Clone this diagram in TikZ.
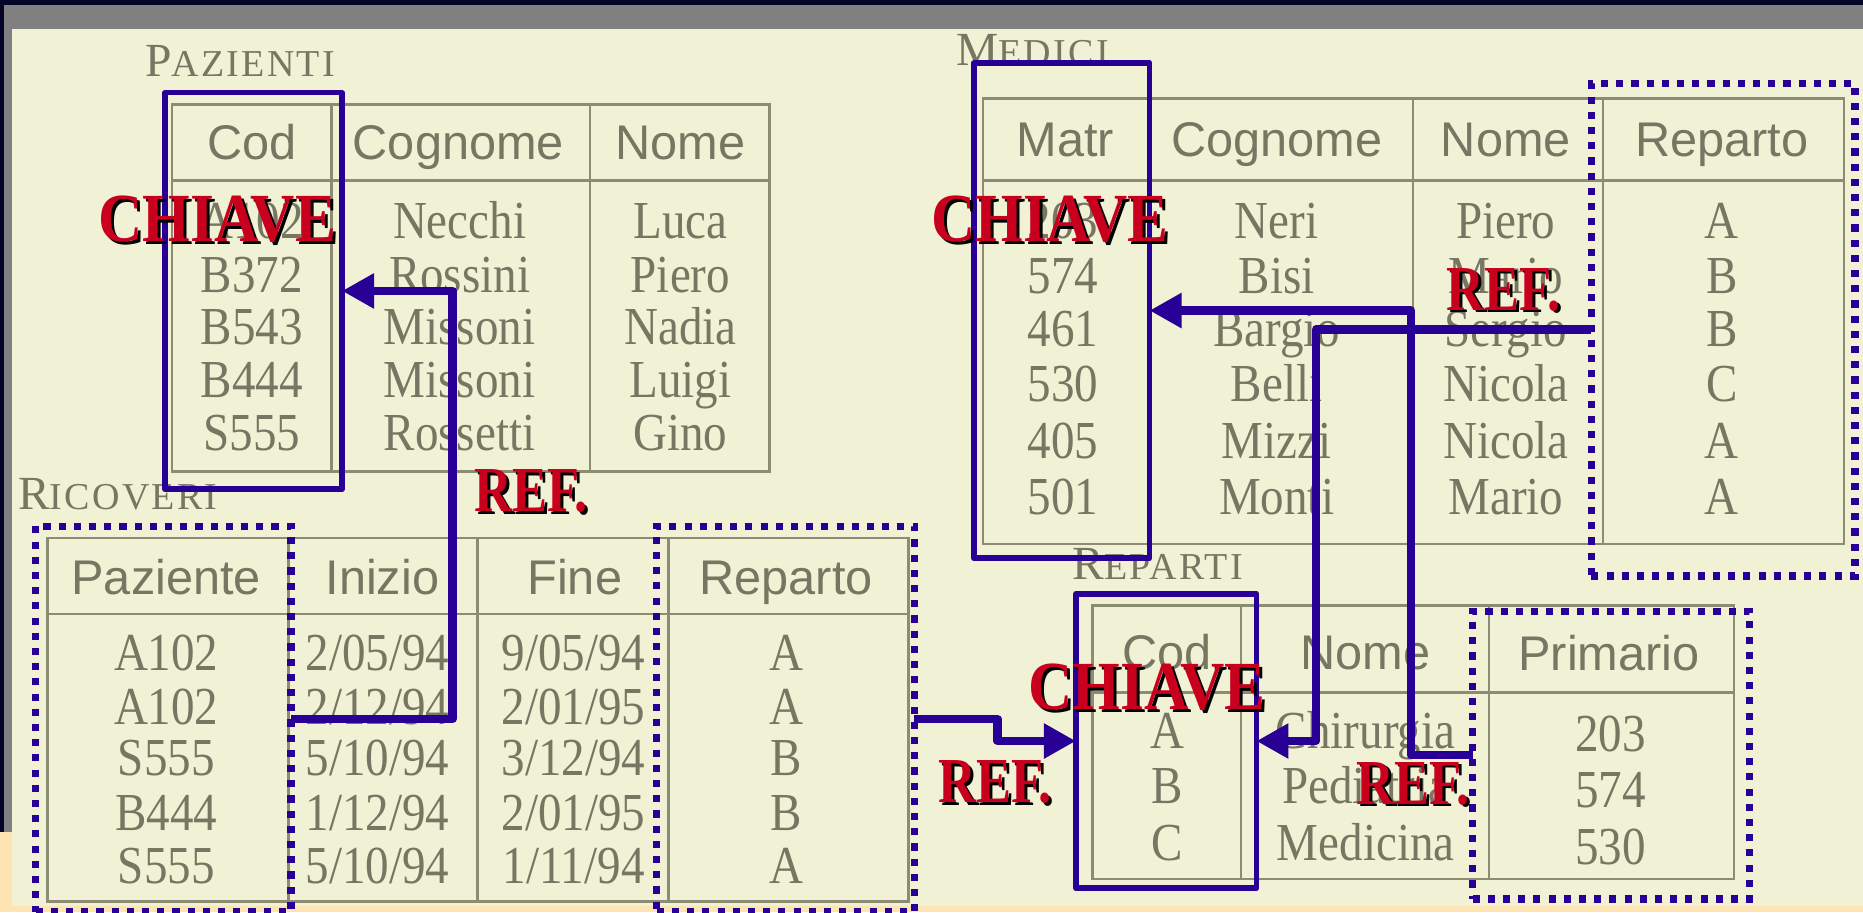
\documentclass[tikz,border=0pt]{standalone}
\usepackage{fontspec}
\setmainfont{Liberation Serif}
\newfontfamily\headfont{Liberation Sans}
\newfontfamily\cellfont[FakeStretch=0.88]{Liberation Serif}
\newfontfamily\titlefont[LetterSpace=6]{Liberation Serif}
\newfontfamily\keyfont[FakeStretch=0.89]{Liberation Serif}
\newfontfamily\reffont[FakeStretch=0.82]{Liberation Serif}
\usetikzlibrary{arrows.meta}
\definecolor{cream}{RGB}{241,241,213}
\definecolor{peach}{RGB}{253,228,178}
\definecolor{navy}{RGB}{5,5,40}
\definecolor{bandgray}{RGB}{128,128,128}
\definecolor{tabgray}{RGB}{140,140,115}
\definecolor{inkgray}{RGB}{118,118,98}
\definecolor{keyblue}{RGB}{40,0,150}
\definecolor{tagred}{RGB}{200,0,30}
% small caps titles and shadowed red labels
\newcommand{\titlecaps}[2]{{\titlefont\fontsize{40}{40}\selectfont #1}{\titlefont\fontsize{32}{32}\selectfont #2}}
\newcommand{\tagtext}[1]{\makebox[0pt][l]{\hspace{2.5pt}\raisebox{-2.5pt}{\color{black}#1}}\textcolor{tagred}{#1}}
\begin{document}
\begin{tikzpicture}[x=1pt,y=-1pt,
  tabline/.style={draw=tabgray,line width=2pt},
  head/.style={anchor=base,text=inkgray,inner sep=0pt,font=\headfont\fontsize{41}{41}\selectfont},
  cell/.style={anchor=base,text=inkgray,inner sep=0pt,font=\cellfont\fontsize{45}{45}\selectfont},
  tabtitle/.style={anchor=base west,text=inkgray,inner sep=0pt},
  keybox/.style={draw=keyblue,line width=4.8pt,line join=round,inner sep=0pt,outer sep=0pt},
  refbox/.style={draw=keyblue,line width=6pt,dash pattern=on 6pt off 6.8pt,inner sep=0pt,outer sep=0pt},
  refline/.style={draw=keyblue,line width=7pt,line join=round,-{Triangle[length=27pt,width=28pt]}},
  keytag/.style={inner sep=0pt,font=\keyfont\bfseries\fontsize{58}{58}\selectfont},
  reftag/.style={inner sep=0pt,font=\reffont\bfseries\fontsize{54}{54}\selectfont}]
  \useasboundingbox (0,0) rectangle (1568.8,768);
  % background
  \fill[cream] (0,0) rectangle (1568.8,768);
  \fill[peach] (0,763) rectangle (1568.8,768);
  \fill[peach] (0,701) rectangle (10,768);
  \fill[bandgray] (3.4,0) rectangle (10,701);
  \fill[navy] (0,0) rectangle (3.4,701);

  % PAZIENTI
  \node[tabtitle] (tPaz) at (122,64) {\titlecaps{P}{AZIENTI}};
  \draw[tabline] (145,88) rectangle (648,397);
  \draw[tabline] (145,152) -- (648,152);
  \draw[tabline] (279,88) -- (279,397);
  \draw[tabline] (497,88) -- (497,397);
  \node[head] (pazH1) at (212,134) {Cod};
  \node[head] (pazH2) at (386,134) {Cognome};
  \node[head] (pazH3) at (573,134) {Nome};
  \foreach \y/\a/\b/\c [count=\i] in {201/A102/Necchi/Luca,246/B372/Rossini/Piero,
      290/B543/Missoni/Nadia,335/B444/Missoni/Luigi,379/S555/Rossetti/Gino} {
    \node[cell] (paz\i a) at (212,\y) {\a};
    \node[cell] (paz\i b) at (387,\y) {\b};
    \node[cell] (paz\i c) at (573,\y) {\c};
  }

  % RICOVERI
  \node[tabtitle] (tRic) at (15,429) {\titlecaps{R}{ICOVERI}};
  \draw[tabline] (40,453) rectangle (765,759);
  \draw[tabline] (40,517) -- (765,517);
  \foreach \x in {243,402,563}
    \draw[tabline] (\x,453) -- (\x,759);
  \node[head] (ricH1) at (140,501) {Paziente};
  \node[head] (ricH2) at (322,501) {Inizio};
  \node[head] (ricH3) at (484,501) {Fine};
  \node[head] (ricH4) at (662,501) {Reparto};
  \foreach \y/\a/\b/\c/\d [count=\i] in {565/A102/2\slash05\slash94/9\slash05\slash94/A,
      610/A102/2\slash12\slash94/2\slash01\slash95/A,653/S555/5\slash10\slash94/3\slash12\slash94/B,
      699/B444/1\slash12\slash94/2\slash01\slash95/B,744/S555/5\slash10\slash94/1\slash11\slash94/A} {
    \node[cell] (ric\i a) at (140,\y) {\a};
    \node[cell] (ric\i b) at (318,\y) {\b};
    \node[cell] (ric\i c) at (483,\y) {\c};
    \node[cell] (ric\i d) at (662,\y) {\d};
  }

  % MEDICI
  \node[tabtitle] (tMed) at (805,55) {\titlecaps{M}{EDICI}};
  \draw[tabline] (828,83) rectangle (1553,458);
  \draw[tabline] (828,152) -- (1553,152);
  \foreach \x in {967,1190,1350}
    \draw[tabline] (\x,83) -- (\x,458);
  \node[head] (medH1) at (897,132) {Matr};
  \node[head] (medH2) at (1075,132) {Cognome};
  \node[head] (medH3) at (1268,132) {Nome};
  \node[head] (medH4) at (1450,132) {Reparto};
  \foreach \y/\a/\b/\c/\d [count=\i] in {201/203/Neri/Piero/A,247/574/Bisi/Mario/B,
      292/461/Bargio/Sergio/B,338/530/Belli/Nicola/C,386/405/Mizzi/Nicola/A,433/501/Monti/Mario/A} {
    \node[cell] (med\i a) at (895,\y) {\a};
    \node[cell] (med\i b) at (1075,\y) {\b};
    \node[cell] (med\i c) at (1268,\y) {\c};
    \node[cell] (med\i d) at (1450,\y) {\d};
  }

  % REPARTI
  \node[tabtitle] (tRep) at (903,488) {\titlecaps{R}{EPARTI}};
  \draw[tabline] (920,510) rectangle (1460,740);
  \draw[tabline] (920,583) -- (1460,583);
  \draw[tabline] (1045,510) -- (1045,740);
  \draw[tabline] (1254,510) -- (1254,740);
  \node[head] (repH1) at (983,564) {Cod};
  \node[head] (repH2) at (1150,564) {Nome};
  \node[head] (repH3) at (1355,565) {Primario};
  \foreach \y/\a/\b/\c [count=\i] in {630/A/Chirurgia/203,677/B/Pediatria/574,725/C/Medicina/530} {
    \node[cell] (rep\i a) at (983,\y) {\a};
    \node[cell] (rep\i b) at (1150,\y) {\b};
    \node[cell] (rep\i c) at (1356,\y+3) {\c};
  }

  % keys and references
  \node[keybox,minimum width=149,minimum height=334] (pazKey) at (213.5,245) {};
  \node[keybox,minimum width=148,minimum height=417] (medKey) at (894,261.5) {};
  \node[keybox,minimum width=152,minimum height=248] (repKey) at (982,624) {};
  \node[refbox,minimum width=215,minimum height=325] (ricPaz) at (137.5,605.5) {};
  \node[refbox,minimum width=217,minimum height=325] (ricRep) at (661.5,605.5) {};
  \node[refbox,minimum width=222,minimum height=415] (medRep) at (1451,277.5) {};
  \node[refbox,minimum width=233,minimum height=242] (repPrim) at (1356.5,636) {};

  \coordinate (bend1) at (381,245);
  \coordinate (bend2) at (840,605.5);
  \coordinate (bend3) at (1188,636);
  \coordinate (bend4) at (1108,277.5);
  \draw[refline] (ricPaz.east) -| (bend1) -- (bend1 -| pazKey.east);
  \draw[refline] (ricRep.east) -- (bend2) |- (repKey.west);
  \draw[refline] (repPrim.west) -- (bend3) |- (medKey.east);
  \draw[refline] (medRep.west) -- (bend4) |- (repKey.east);

  \node[keytag] (kPaz) at (183,186) {\tagtext{CHIAVE}};
  \node[keytag] (kMed) at (884,186) {\tagtext{CHIAVE}};
  \node[keytag] (kRep) at (966,580) {\tagtext{CHIAVE}};
  \node[reftag] (rPaz) at (447,415) {\tagtext{REF.}};
  \node[reftag] (rRic) at (838,660) {\tagtext{REF.}};
  \node[reftag] (rMed) at (1266,245) {\tagtext{REF.}};
  \node[reftag] (rPrim) at (1190,661) {\tagtext{REF.}};

  % top band
  \fill[bandgray] (3.4,4.2) rectangle (1568.8,24.4);
  \fill[navy] (0,0) rectangle (1568.8,4.2);
\end{tikzpicture}
\end{document}
